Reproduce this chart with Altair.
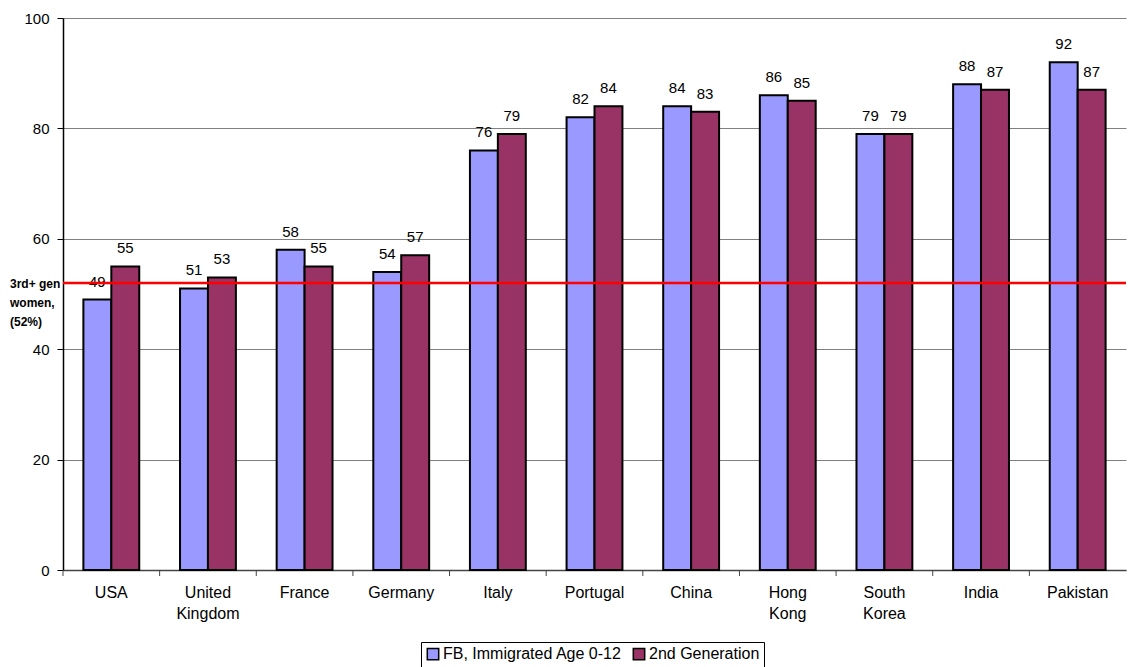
import altair as alt
import pandas as pd

# Share of women (%) by country of origin, two immigrant generations
countries = ["USA", "United Kingdom", "France", "Germany", "Italy", "Portugal",
             "China", "Hong Kong", "South Korea", "India", "Pakistan"]
fb_age_0_12 = [49, 51, 58, 54, 76, 82, 84, 86, 79, 88, 92]
second_gen = [55, 53, 55, 57, 79, 84, 83, 85, 79, 87, 87]
series = ["FB, Immigrated Age 0-12", "2nd Generation"]
series_colors = ["#9999FF", "#993366"]
third_gen_ref = 52
ref_label = ["3rd+ gen", "women,", "(52%)"]
y_ticks = [0, 20, 40, 60, 80, 100]

rows = []
for c, a, b in zip(countries, fb_age_0_12, second_gen):
    rows.append({"country": c, "series": series[0], "value": a})
    rows.append({"country": c, "series": series[1], "value": b})
df = pd.DataFrame(rows)

FONT = "Liberation Sans"

x_enc = alt.X(
    "country:N", sort=countries,
    scale=alt.Scale(paddingInner=0, paddingOuter=0),
    axis=alt.Axis(title=None, labelAngle=0, ticks=False,
                  labelExpr="split(datum.label, ' ')",
                  labelFont=FONT, labelFontSize=16, labelColor="black",
                  labelPadding=14, labelLineHeight=21,
                  domainColor="#444444", domainWidth=1.5),
)
xoff_enc = alt.XOffset("series:N", sort=series,
                       scale=alt.Scale(paddingInner=0, paddingOuter=0.73))
y_enc = alt.Y(
    "value:Q",
    scale=alt.Scale(domain=[0, 100], nice=False),
    axis=alt.Axis(title=None, values=y_ticks, grid=True, gridColor="#808080",
                  gridWidth=1, tickSize=6, tickColor="black", tickWidth=1,
                  labelFont=FONT, labelFontSize=15, labelColor="black",
                  labelPadding=8, domainColor="black", domainWidth=1.5),
)

base = alt.Chart(df)

bars = base.mark_bar(stroke="black", strokeWidth=2).encode(
    x=x_enc,
    xOffset=xoff_enc,
    y=y_enc,
    color=alt.Color(
        "series:N", sort=series,
        scale=alt.Scale(domain=series, range=series_colors),
        legend=alt.Legend(
            title=None, orient="none", direction="horizontal",
            legendX=358, legendY=624,
            strokeColor="black", padding=4,
            symbolType="square", symbolSize=130,
            symbolStrokeColor="black", symbolStrokeWidth=1.5,
            labelFont=FONT, labelFontSize=16, labelColor="black",
            labelLimit=400, labelOffset=2, columnPadding=8,
        ),
    ),
)

values_text = base.mark_text(
    dy=-18, baseline="middle", font=FONT, fontSize=15, color="black"
).encode(x=x_enc, xOffset=xoff_enc, y=y_enc, text=alt.Text("value:Q"))

# Category boundary ticks below the x axis
bound_ticks = alt.Chart(pd.DataFrame({"country": countries})).mark_rule(
    color="#444444", strokeWidth=1
).encode(
    x=alt.X("country:N", sort=countries, bandPosition=0),
    y=alt.value(552),
    y2=alt.value(558),
)

ref_df = pd.DataFrame({"v": [third_gen_ref]})
ref_line = alt.Chart(ref_df).mark_rule(color="#FF0000", strokeWidth=2.5).encode(
    y=alt.Y("v:Q")
)
ref_text = alt.Chart(ref_df).mark_text(
    text=ref_label, align="left", baseline="middle", dy=1,
    font=FONT, fontSize=12, fontWeight="bold", lineHeight=19, color="black"
).encode(x=alt.value(-53), y=alt.Y("v:Q"))

chart = alt.layer(bars, values_text, bound_ticks, ref_line, ref_text).properties(
    width=1063, height=552,
    padding={"left": 63, "top": 18, "right": 2, "bottom": 97},
    autosize=alt.AutoSizeParams(type="none"),
    background="white",
).configure_view(stroke=None)

chart.save("out.html", embed_options={"renderer": "svg", "actions": False})
